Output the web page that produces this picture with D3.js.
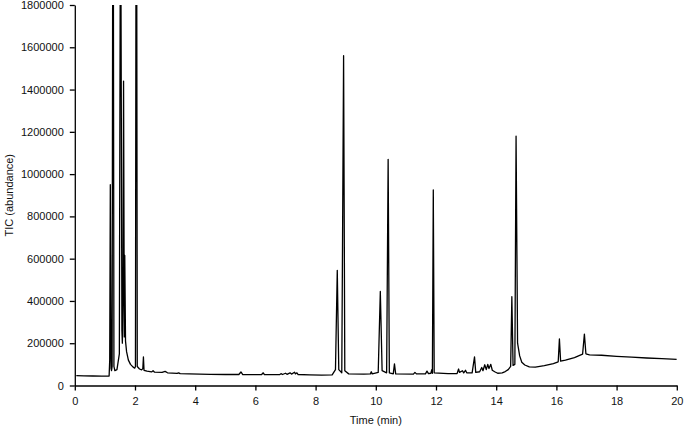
<!DOCTYPE html>
<html>
<head>
<meta charset="utf-8">
<script src="https://cdn.jsdelivr.net/npm/d3@7"></script>
<style>
  body { margin: 0; background: #fff; }
  text { font-family: "Liberation Sans", Arial, sans-serif; fill: #111; }
</style>
</head>
<body>
<div id="chart"></div>
<script>
// retention time (min) and total ion current
let retentionTime = [
  0.05, 0.3, 0.6, 0.9, 1.14, 1.16, 1.18, 1.205, 1.22, 1.24, 1.27, 1.30, 1.33, 1.40, 1.48, 1.52,
  1.565, 1.58, 1.60, 1.62, 1.645, 1.66, 1.685, 1.72, 1.78, 1.85, 1.93, 1.99, 2.015, 2.045,
  2.075, 2.15, 2.22, 2.26, 2.28, 2.30, 2.40, 2.55, 2.60, 2.65, 2.90, 3.00, 3.08, 3.40, 3.45, 3.50,
  3.8, 4.5, 5.0, 5.45, 5.52, 5.58, 6.00, 6.20, 6.26, 6.30, 6.8, 6.85, 6.9, 7.0, 7.05, 7.15, 7.2,
  7.3, 7.33, 7.38, 7.42, 7.8, 8.2, 8.55, 8.66, 8.72, 8.77, 8.87, 8.93, 8.97, 9.1, 9.6, 9.82, 9.85,
  9.88, 10.08, 10.15, 10.21, 10.36, 10.41, 10.45, 10.58, 10.62, 10.66, 11.25, 11.3, 11.35, 11.65,
  11.7, 11.75, 11.83, 11.86, 11.88, 11.91, 11.94, 12.4, 12.7, 12.75, 12.78, 12.88, 12.92, 12.98,
  13.02, 13.2, 13.28, 13.32, 13.45, 13.52, 13.56, 13.62, 13.67, 13.72, 13.76, 13.82, 13.87, 13.95,
  14.05, 14.2, 14.3, 14.4, 14.48, 14.52, 14.56, 14.62, 14.66, 14.71, 14.78, 14.85, 14.95, 15.1,
  15.3, 15.6, 15.9, 16.06, 16.1, 16.14, 16.3, 16.6, 16.87, 16.93, 16.98, 17.1, 17.5, 18.0, 18.5,
  19.0, 19.5, 20.0
]
let abundance = [
  47000, 46000, 45000, 44500, 44500, 120000, 950000, 80000, 70000, 90000, 3200000, 90000, 70000, 75000, 150000, 2600000,
  260000, 200000, 400000, 1440000, 230000, 615000, 210000, 160000, 120000, 100000, 88000, 82000, 90000, 3400000,
  90000, 78000, 74000, 80000, 135000, 72000, 68000, 64000, 70000, 63000, 62000, 67000, 60000, 57000, 60000, 56000,
  55000, 53000, 52000, 52000, 64000, 52000, 51000, 51000, 60000, 51000, 51000, 56000, 52000, 58000, 53000, 60000, 54000,
  63000, 55000, 60000, 52000, 50000, 49000, 50000, 75000, 545000, 75000, 60000, 1560000, 70000, 55000, 54000, 55000, 65000,
  55000, 62000, 445000, 70000, 60000, 1070000, 60000, 55000, 102000, 55000, 54000, 62000, 55000, 55000,
  68000, 56000, 58000, 75000, 58000, 925000, 60000, 56000, 56000, 78000, 62000, 70000, 60000, 72000,
  60000, 60000, 135000, 62000, 65000, 85000, 70000, 98000, 75000, 100000, 80000, 100000, 72000, 65000,
  58000, 60000, 66000, 75000, 90000, 420000, 95000, 100000, 1180000, 200000, 140000, 110000, 97000, 88000,
  87000, 94000, 104000, 112000, 220000, 115000, 120000, 132000, 148000, 243000, 150000, 145000, 143000, 138000, 134000,
  130000, 127000, 124000
]
let xTicks = [0, 2, 4, 6, 8, 10, 12, 14, 16, 18, 20]
let yTicks = [0, 200000, 400000, 600000, 800000, 1000000, 1200000, 1400000, 1600000, 1800000]

let width = 685
let height = 430

let trace = retentionTime.map((t, i) => ({ t: t, v: abundance[i] }))

let x = d3.scaleLinear().domain([0, 20]).range([74.8, 676.8])
let y = d3.scaleLinear().domain([0, 1800000]).range([385.5, 5])

let svg = d3.select('#chart')
  .append('svg')
  .attr('width', width)
  .attr('height', height)

// clip so the big solvent peaks run off the top like in the original
svg.append('clipPath')
  .attr('id', 'plotClip')
  .append('rect')
  .attr('x', x(0))
  .attr('y', y(1800000))
  .attr('width', x(20) - x(0))
  .attr('height', y(0) - y(1800000))

let line = d3.line()
  .x(d => x(d.t))
  .y(d => y(d.v))

svg.append('path')
  .datum(trace)
  .attr('clip-path', 'url(#plotClip)')
  .attr('fill', 'none')
  .attr('stroke', '#000')
  .attr('stroke-width', 1.3)
  .attr('stroke-linejoin', 'round')
  .attr('d', line)

// x axis
svg.append('g')
  .attr('transform', 'translate(0,' + y(0) + ')')
  .call(d3.axisBottom(x).tickValues(xTicks).tickSize(5).tickSizeOuter(0).tickPadding(7).tickFormat(d3.format('d')))

// y axis
svg.append('g')
  .attr('transform', 'translate(' + x(0) + ',0)')
  .call(d3.axisLeft(y).tickValues(yTicks).tickSize(5).tickSizeOuter(0).tickPadding(6).tickFormat(d3.format('d')))

svg.selectAll('.domain, .tick line')
  .attr('stroke', '#000')
  .attr('stroke-width', 1.3)
svg.selectAll('.tick text')
  .attr('font-size', 11)
  .attr('font-family', '"Liberation Sans", Arial, sans-serif')
  .attr('fill', '#111')

// axis titles
svg.append('text')
  .attr('x', (x(0) + x(20)) / 2)
  .attr('y', 424)
  .attr('text-anchor', 'middle')
  .attr('font-size', 11)
  .text('Time (min)')

svg.append('text')
  .attr('transform', 'translate(13,' + y(900000) + ') rotate(-90)')
  .attr('text-anchor', 'middle')
  .attr('font-size', 11)
  .text('TIC (abundance)')
</script>
</body>
</html>
